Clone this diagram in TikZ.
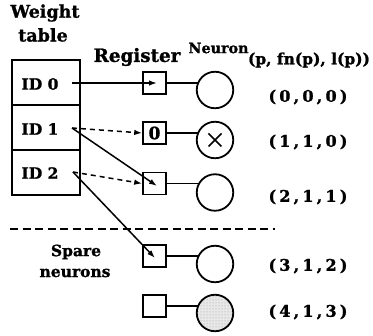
\documentclass[tikz,border=0pt]{standalone}
\usepackage{fontspec}
\setmainfont{DejaVu Serif}[BoldFeatures={FakeBold=1.2}]
\usetikzlibrary{arrows.meta,patterns,backgrounds}
\newcommand{\mytup}[3]{(\hspace{3.2pt}#1\hspace{3.2pt},\hspace{3.2pt}#2\hspace{3.2pt},\hspace{3.2pt}#3\hspace{3.2pt})}
\tikzset{
  txt/.style={inner sep=0pt, font=\bfseries\fontsize{#1}{#1}\selectfont},
  tbl/.style={draw, line width=2pt, minimum width=68pt, minimum height=45pt, inner sep=0pt},
  regbox/.style={draw, line width=1.6pt, minimum width=23pt, minimum height=22pt, inner sep=0pt, fill=white},
  neu/.style={draw, circle, line width=1.8pt, minimum size=36.5pt, inner sep=0pt, fill=white},
  conn/.style={line width=1.6pt},
  arr/.style={line width=1.5pt, -{Latex[length=8pt,width=5.5pt]}},
  darr/.style={line width=1.5pt, dash pattern=on 5pt off 4pt, -{Latex[length=8pt,width=5.5pt]}},
}
\begin{document}
\begin{tikzpicture}[x=1pt,y=-1pt]
\useasboundingbox (0,0) rectangle (373,336);
% headings
\node[txt=17.5] (w1) at (45,13) {Weight};
\node[txt=17.5] (w2) at (43,35) {table};
\node[txt=18.3] (hreg) at (137,57) {Register};
\node[txt=14.3] (hneu) at (218.5,48) {Neuron};
\node[txt=15.5] (htup) at (309,60) {(p, fn(p), l(p))};
% weight table
\node[tbl] (t0) at (46,82.5) {};
\node[tbl] (t1) at (46,127.5) {};
\node[tbl] (t2) at (46,172.5) {};
\node[txt=15.5] (id0) at (40,84) {ID 0};
\node[txt=15.5] (id1) at (40,129) {ID 1};
\node[txt=15.5] (id2) at (40,173) {ID 2};
% registers
\node[regbox] (r0) at (154.5,83) {};
\node[regbox, txt=17, draw, line width=1.6pt, minimum width=23pt, minimum height=22pt] (r1) at (154.5,133) {0};
\node[regbox] (r2) at (154.5,183.5) {};
\node[regbox] (r3) at (154.5,256) {};
\node[regbox] (r4) at (154.5,306) {};
% neurons
\node[neu] (n0) at (215,90) {};
\node[neu] (n1) at (215,140) {};
\node[neu] (n2) at (215,192.5) {};
\node[neu] (n3) at (215,264) {};
\node[neu, fill=none, preaction={fill=gray!18}, pattern=dots, pattern color=gray!80] (n4) at (215,313) {};
\draw[line width=1.5pt] ([shift={(-6.5,-6.5)}]n1.center) -- ([shift={(6.5,6.5)}]n1.center)
  ([shift={(-6.5,6.5)}]n1.center) -- ([shift={(6.5,-6.5)}]n1.center);
% register-neuron links
\begin{scope}[on background layer]
\foreach \i in {0,...,4}{
  \draw[conn] (r\i.east) -- (r\i.east -| n\i.center);
}
\end{scope}
% tuples
\node[txt=16] (p0) at (308,97) {\mytup{0}{0}{0}};
\node[txt=16] (p1) at (308,142) {\mytup{1}{1}{0}};
\node[txt=16] (p2) at (308,197) {\mytup{2}{1}{1}};
\node[txt=16] (p3) at (308,266) {\mytup{3}{1}{2}};
\node[txt=16] (p4) at (308,312) {\mytup{4}{1}{3}};
% separator
\coordinate (dl) at (10,229);
\coordinate (dr) at (275,229);
\draw[line width=1.5pt, dash pattern=on 8pt off 4.5pt] (dl) -- (dr);
\node[txt=15.5] (sp1) at (76,252) {Spare};
\node[txt=15.5] (sp2) at (75,273) {neurons};
% connectors from weight table
\coordinate (s0) at (72,83);
\coordinate (s1) at (72,128);
\coordinate (s2) at (73,172);
\draw[arr] (s0) -- ([xshift=2.5pt]r0.center);
\draw[darr] (s1) -- (r1.west);
\draw[arr] (s1) -- ([shift={(2.5,2.5)}]r2.center);
\draw[darr] (s2) -- (r2.west);
\draw[arr] (s2) -- ([shift={(0.5,2)}]r3.center);
\end{tikzpicture}
\end{document}
